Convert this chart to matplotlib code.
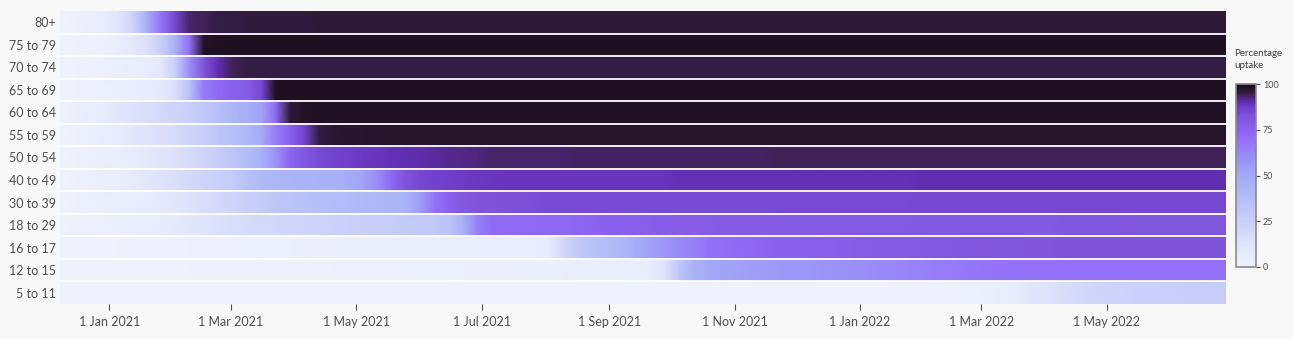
import numpy as np
import pandas as pd
import matplotlib
matplotlib.use('Agg')
import matplotlib.pyplot as plt
import matplotlib.dates as mdates
from matplotlib.colors import LinearSegmentedColormap

plt.rcParams['font.family'] = ['Lato', 'DejaVu Sans']

# weekly sample dates, 8 Dec 2020 onwards
weeks = pd.date_range('2020-12-08', periods=82, freq='7D')

age_groups = ['80+', '75 to 79', '70 to 74', '65 to 69', '60 to 64', '55 to 59',
              '50 to 54', '40 to 49', '30 to 39', '18 to 29', '16 to 17',
              '12 to 15', '5 to 11']

# percentage uptake per age group, one value per week
up_80 = [0, 1, 3, 5, 10, 22, 45, 68, 85, 93,
         94, 95, 95, 95.5, 95.5, 95.5, 95.5, 95.5, 96, 96,
         96, 96, 96, 96, 96, 96, 96, 96, 96, 96,
         96, 96, 96, 96, 96, 96, 96, 96, 96, 96,
         96, 96, 96, 96, 96, 96, 96, 96, 96, 96,
         96, 96, 96, 96, 96, 96, 96, 96, 96, 96,
         96, 96, 96, 96, 96, 96, 96, 96, 96, 96,
         96, 96, 96, 96, 96, 96, 96, 96, 96, 96,
         96, 96]
up_75 = [0, 0.5, 1, 2, 4, 8, 14, 25, 45, 70,
         98, 98.5, 99, 99, 99, 99, 99, 99, 99, 99,
         99, 99, 99, 99, 99, 99, 99, 99, 99, 99,
         99, 99, 99, 99, 99, 99, 99, 99, 99, 99,
         99, 99, 99, 99, 99, 99, 99, 99, 99, 99,
         99, 99, 99, 99, 99, 99, 99, 99, 99, 99,
         99, 99, 99, 99, 99, 99, 99, 99, 99, 99,
         99, 99, 99, 99, 99, 99, 99, 99, 99, 99,
         99, 99]
up_70 = [0, 0.5, 1, 2, 3, 4, 5, 10, 25, 60,
         82, 90, 94, 95, 95, 95, 95, 95, 95, 95,
         95, 95, 95, 95, 95, 95, 95, 95, 95, 95,
         95, 95, 95, 95, 95, 95, 95, 95, 95, 95,
         95, 95, 95, 95, 95, 95, 95, 95, 95, 95,
         95, 95, 95, 95, 95, 95, 95, 95, 95, 95,
         95, 95, 95, 95, 95, 95, 95, 95, 95, 95,
         95, 95, 95, 95, 95, 95, 95, 95, 95, 95,
         95, 95]
up_65 = [0, 0.5, 1, 2, 3, 4, 6, 8, 15, 35,
         65, 72, 75, 78, 85, 99, 99, 99, 99, 99,
         99, 99, 99, 99, 99, 99, 99, 99, 99, 99,
         99, 99, 99, 99, 99, 99, 99, 99, 99, 99,
         99, 99, 99, 99, 99, 99, 99, 99, 99, 99,
         99, 99, 99, 99, 99, 99, 99, 99, 99, 99,
         99, 99, 99, 99, 99, 99, 99, 99, 99, 99,
         99, 99, 99, 99, 99, 99, 99, 99, 99, 99,
         99, 99]
up_60 = [0, 2, 4, 6, 10, 13, 16, 19, 22, 25,
         30, 36, 42, 47, 52, 72, 96, 98, 98.5, 98.5,
         98.5, 98.5, 98.5, 98.5, 98.5, 98.5, 98.5, 98.5, 98.5, 98.5,
         98.5, 98.5, 98.5, 98.5, 98.5, 98.5, 98.5, 98.5, 98.5, 98.5,
         98.5, 98.5, 98.5, 98.5, 98.5, 98.5, 98.5, 98.5, 98.5, 98.5,
         98.5, 98.5, 98.5, 98.5, 98.5, 98.5, 98.5, 98.5, 98.5, 98.5,
         98.5, 98.5, 98.5, 98.5, 98.5, 98.5, 98.5, 98.5, 98.5, 98.5,
         98.5, 98.5, 98.5, 98.5, 98.5, 98.5, 98.5, 98.5, 98.5, 98.5,
         98.5, 98.5]
up_55 = [0, 1, 2, 4, 6, 9, 12, 15, 18, 22,
         26, 31, 36, 41, 48, 66, 76, 86, 95, 96.5,
         97, 97, 97.5, 97.5, 97.5, 97.5, 97.5, 97.5, 97.5, 97.5,
         97.5, 97.5, 97.5, 97.5, 97.5, 97.5, 97.5, 97.5, 97.5, 97.5,
         97.5, 97.5, 97.5, 97.5, 97.5, 97.5, 97.5, 97.5, 97.5, 97.5,
         97.5, 97.5, 97.5, 97.5, 97.5, 97.5, 97.5, 97.5, 97.5, 97.5,
         97.5, 97.5, 97.5, 97.5, 97.5, 97.5, 97.5, 97.5, 97.5, 97.5,
         97.5, 97.5, 97.5, 97.5, 97.5, 97.5, 97.5, 97.5, 97.5, 97.5,
         97.5, 97.5]
up_50 = [0, 1, 2, 3, 4, 6, 8, 11, 14, 18,
         22, 27, 32, 38, 46, 58, 74, 80, 84, 86,
         87, 88, 88.5, 89.5, 90, 90.5, 91, 91.5, 92, 92.5,
         93, 93, 93, 93, 93, 93, 93.5, 93.5, 93.5, 93.5,
         93.5, 93.5, 93.5, 93.5, 93.5, 93.5, 93.5, 93.5, 93.5, 93.5,
         94, 94, 94, 94, 94, 94, 94, 94, 94, 94,
         94, 94, 94, 94, 94, 94, 94, 94, 94, 94,
         94, 94, 94, 94, 94, 94, 94, 94, 94, 94,
         94, 94]
up_40 = [0, 1, 2, 3, 4, 6, 9, 12, 15, 19,
         22, 25, 28, 35, 40, 42, 43, 44, 45, 46,
         48, 52, 60, 72, 82, 85, 86, 87, 87.5, 88,
         88.5, 89, 89, 89, 89, 89, 89, 89, 89, 89,
         89, 89, 89, 89.5, 89.5, 89.5, 89.5, 89.5, 89.5, 89.5,
         89.5, 89.5, 89.5, 89.5, 89.5, 89.5, 89.5, 89.5, 89.5, 89.5,
         90, 90, 90, 90, 90, 90, 90, 90, 90, 90,
         90, 90, 90, 90, 90, 90, 90, 90, 90, 90,
         90, 90]
up_30 = [0, 1, 2, 3, 4, 5, 6, 8, 10, 13,
         16, 19, 22, 25, 28, 31, 33, 35, 37, 38,
         39, 40, 41, 42, 44, 54, 68, 76, 80, 81.5,
         82, 82.5, 83, 83.5, 84, 84, 84, 84, 84, 84,
         84, 84, 84, 84, 84, 84, 84, 84, 84, 84,
         84.5, 84.5, 84.5, 84.5, 84.5, 84.5, 84.5, 84.5, 84.5, 84.5,
         85, 85, 85, 85, 85, 85, 85, 85, 85, 85,
         85, 85, 85, 85, 85, 85, 85, 85, 85, 85,
         85, 85]
up_18 = [0, 1, 1.5, 2, 3, 4, 5, 6, 8, 10,
         12, 14, 16, 18, 19, 20, 21, 22, 23, 24,
         25, 26, 27, 28, 29, 30, 30, 33, 45, 64,
         71, 72, 72, 72.5, 73, 73, 73.5, 74, 75, 76,
         76.5, 77, 77.5, 78, 78, 78, 78.5, 78.5, 78.5, 78.5,
         79, 79, 79, 79, 79, 79.5, 79.5, 79.5, 79.5, 79.5,
         80, 80, 80, 80, 80, 80, 80, 80, 80, 80,
         80.5, 80.5, 80.5, 80.5, 80.5, 81, 81, 81, 81, 81,
         81, 81]
up_16 = [0, 0, 0, 0.5, 0.5, 1, 1, 1, 1.5, 1.5,
         2, 2, 2, 2, 2.5, 2.5, 2.5, 3, 3, 3,
         3, 3.5, 3.5, 3.5, 4, 4, 4, 4, 4.5, 4.5,
         5, 5, 5, 5.5, 6, 20, 30, 34, 38, 42,
         48, 53, 57, 61, 64, 68, 70, 72, 73, 74,
         75, 75.5, 76, 76.5, 77, 77.5, 78, 78.5, 79, 79,
         79.5, 80, 80, 80.5, 80.5, 81, 81, 81, 81.5, 81.5,
         82, 82, 82, 82, 82, 82, 82, 82, 82, 82,
         82, 82]
up_12 = [0, 0, 0, 0, 0, 0, 0.5, 0.5, 0.5, 0.5,
         1, 1, 1, 1, 1, 1, 1.5, 1.5, 1.5, 1.5,
         2, 2, 2, 2, 2, 2.5, 2.5, 2.5, 2.5, 3,
         3, 3, 3, 3.5, 3.5, 3.5, 4, 4, 4.5, 4.5,
         5, 6, 12, 32, 44, 49, 52, 53, 54, 55,
         56, 56.5, 57, 58, 58.5, 59, 60, 61, 62, 63,
         64, 65, 66, 67, 67.5, 68, 68, 68.5, 68.5, 69,
         69, 69, 69, 69, 69, 69, 69, 69, 69, 69,
         69, 69]
up_5 = [0, 0, 0, 0, 0, 0, 0, 0, 0, 0,
        0, 0, 0, 0, 0, 0, 0, 0, 0, 0,
        0, 0, 0, 0, 0, 0, 0, 0, 0, 0,
        0, 0, 0, 0, 0, 0, 0, 0, 0, 0,
        0, 0, 0, 0, 0, 0, 0, 0, 0, 0,
        0.5, 0.5, 0.5, 0.5, 0.5, 0.5, 0.5, 0.5, 1, 1,
        1, 1, 1.5, 2, 2.5, 3.5, 5, 8, 11, 14,
        17, 19, 21, 22.5, 23.5, 24.5, 25, 25.5, 26, 26.5,
        27, 27]

uptake = [up_80, up_75, up_70, up_65, up_60, up_55, up_50,
          up_40, up_30, up_18, up_16, up_12, up_5]

cmap = LinearSegmentedColormap.from_list('uptake', [
    (0.00, '#eff1fc'), (0.10, '#e3e7fb'), (0.25, '#c9d0f9'),
    (0.40, '#b0baf7'), (0.50, '#a3aaf6'), (0.60, '#9a8ef8'),
    (0.68, '#9474f9'), (0.75, '#8b62f0'), (0.82, '#7f54da'),
    (0.87, '#7040cc'), (0.90, '#6230b4'), (0.92, '#52288a'),
    (0.94, '#40225a'), (0.96, '#2e1a38'), (0.98, '#221226'),
    (1.00, '#1c0e1e')])

bg = '#f8f8f8'
fig = plt.figure(figsize=(12.93, 3.39), dpi=100, facecolor=bg)
ax = fig.add_axes([60/1293, 35/339, 1166/1293, 293/339])
ax.set_facecolor(bg)

xd = mdates.date2num(weeks)
for i, row in enumerate(uptake):
    X = np.vstack([xd, xd])
    Y = np.vstack([np.full(len(xd), i - 0.5), np.full(len(xd), i + 0.5)])
    C = np.vstack([row, row])
    mesh = ax.pcolormesh(X, Y, C, cmap=cmap, vmin=0, vmax=100, shading='gouraud')

for i in range(len(age_groups) - 1):
    ax.axhline(i + 0.5, color='white', lw=1.3)

ax.set_xlim(xd[0], xd[-1])
ax.set_ylim(len(age_groups) - 0.5, -0.5)
ax.set_yticks(range(len(age_groups)))
ax.set_yticklabels(age_groups, fontsize=9, color='#505050')
ax.tick_params(axis='y', length=0, pad=3)

ticks = pd.to_datetime(['2021-01-01', '2021-03-01', '2021-05-01', '2021-07-01',
                        '2021-09-01', '2021-11-01', '2022-01-01', '2022-03-01',
                        '2022-05-01'])
ax.set_xticks(mdates.date2num(ticks))
ax.set_xticklabels([f'{d.day} {d.strftime("%b %Y")}' for d in ticks],
                   fontsize=9, color='#505050')
ax.tick_params(axis='x', length=4, width=0.8, color='#505050', pad=5)
for s in ax.spines.values():
    s.set_visible(False)

# colour scale
cax = fig.add_axes([1236/1293, 72/339, 20/1293, 183/339])
cb = fig.colorbar(mesh, cax=cax, ticks=[0, 25, 50, 75, 100])
cb.outline.set_edgecolor('#8a8a8a')
cb.outline.set_linewidth(1.2)
cax.tick_params(labelsize=6.5, colors='#505050', length=3, width=0.8, pad=2)
fig.text(1234/1293, 1 - 49/339, 'Percentage\nuptake', fontsize=7,
         color='#404040', ha='left', va='top', linespacing=1.5)

plt.savefig('out.png', dpi=100, facecolor=bg)
